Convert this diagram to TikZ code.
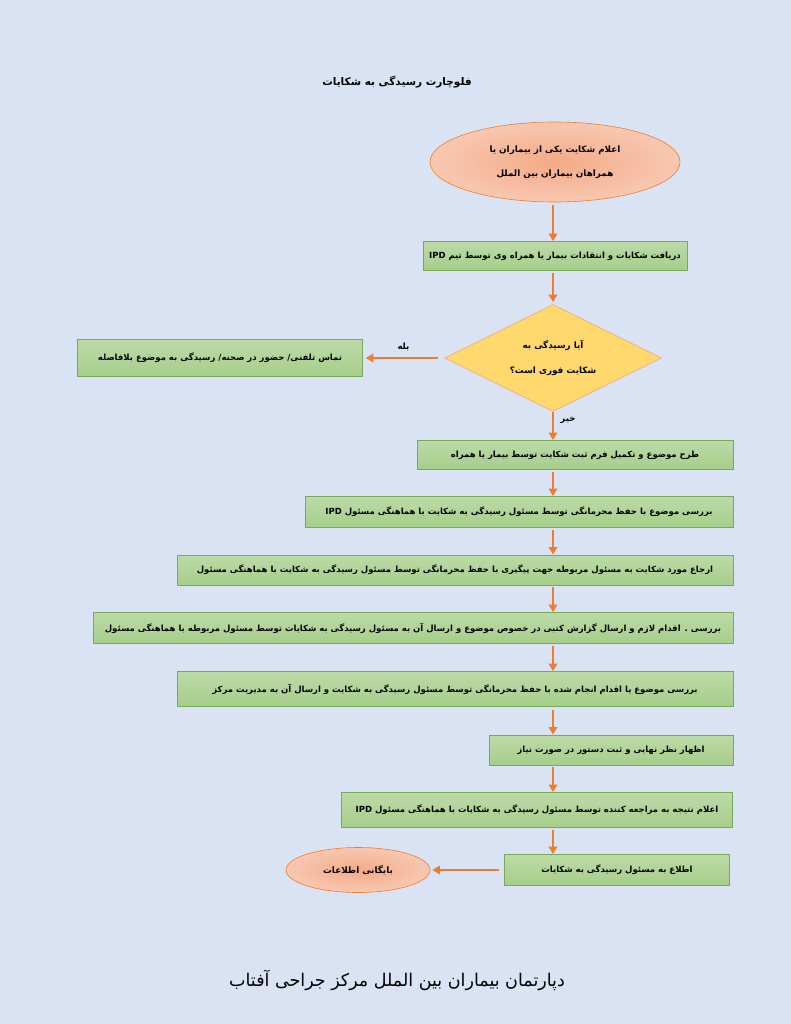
\documentclass[tikz,border=0pt]{standalone}
\usepackage{fontspec}
\usetikzlibrary{shapes.geometric,arrows.meta,calc}
\TeXXeTstate=1
\newfontfamily\arabicfont[Script=Arabic]{DejaVu Sans}
\newcommand{\fatxt}[1]{\beginR #1\endR}
\definecolor{bgc}{RGB}{218,227,243}
\definecolor{boxfill}{RGB}{166,206,138}
\definecolor{boxline}{RGB}{120,170,90}
\definecolor{salmon}{RGB}{244,170,135}
\definecolor{salmonline}{RGB}{237,125,49}
\definecolor{dfill}{RGB}{255,217,110}
\definecolor{dline}{RGB}{244,177,131}
\definecolor{arrc}{RGB}{237,125,49}
\tikzset{
  stepbox/.style={draw=boxline, line width=0.8pt, top color=boxfill!75!white, bottom color=boxfill, inner sep=0pt, font=\arabicfont\bfseries\fontsize{8.5}{10}\selectfont, text=black},
  termin/.style={ellipse, draw=salmonline, line width=0.6pt, inner color=salmon, outer color=salmon!65!white, inner sep=0pt, font=\arabicfont\bfseries\fontsize{8.8}{10}\selectfont, align=center},
  decide/.style={diamond, draw=dline, line width=0.8pt, fill=dfill, inner sep=0pt},
  arr/.style={draw=arrc, line width=2.3pt, -{Triangle[length=7.5pt,width=8.5pt]}},
  lbl/.style={font=\arabicfont\bfseries\fontsize{8.6}{10}\selectfont}
}
\begin{document}
\begin{tikzpicture}[x=1pt,y=-1pt]
\useasboundingbox (0,0) rectangle (791,1024);
\fill[bgc] (0,0) rectangle (791,1024);

\node[font=\arabicfont\bfseries\fontsize{10.5}{12}\selectfont] (title) at (397,82) {\fatxt{فلوچارت رسیدگی به شکایات}};

\node[termin, minimum width=250pt, minimum height=80pt] (e1) at (555,162)
  {\fatxt{اعلام شکایت یکی از بیماران یا}\\[14pt]\fatxt{همراهان بیماران بین الملل}};

\node[stepbox, minimum width=264pt, minimum height=29pt] (b2) at (555,256)
  {\fatxt{دریافت شکایات و انتقادات بیمار یا همراه وی توسط تیم \beginL IPD\endL}};

\node[decide, minimum width=217pt, minimum height=107pt] (d) at (553,358) {};
\node[lbl, font=\arabicfont\bfseries\fontsize{8.8}{10}\selectfont, align=center] (dtext) at (d.center)
  {\fatxt{آیا رسیدگی به}\\[15pt]\fatxt{شکایت فوری است؟}};

\node[stepbox, minimum width=285pt, minimum height=37pt] (bl) at (220,358)
  {\fatxt{تماس تلفنی/ حضور در صحنه/ رسیدگی به موضوع بلافاصله}};

\node[stepbox, minimum width=316pt, minimum height=29pt] (b3) at (575,455)
  {\fatxt{طرح موضوع و تکمیل فرم ثبت شکایت توسط بیمار یا همراه}};

\node[stepbox, minimum width=428pt, minimum height=31pt] (b4) at (519,512)
  {\fatxt{بررسی موضوع با حفظ محرمانگی توسط  مسئول رسیدگی به شکایت با هماهنگی مسئول \beginL IPD\endL}};

\node[stepbox, minimum width=556pt, minimum height=30pt] (b5) at (455,570)
  {\fatxt{ارجاع مورد شکایت به مسئول مربوطه جهت پیگیری با حفظ محرمانگی توسط مسئول رسیدگی به شکایت با هماهنگی مسئول}};

\node[stepbox, minimum width=640pt, minimum height=31pt] (b6) at (413,628)
  {\fatxt{بررسی . اقدام لازم و ارسال گزارش کتبی در خصوص موضوع و ارسال آن به مسئول رسیدگی به شکایات توسط مسئول مربوطه با هماهنگی مسئول}};

\node[stepbox, minimum width=556pt, minimum height=35pt] (b7) at (455,689)
  {\fatxt{بررسی موضوع یا اقدام انجام شده با حفظ محرمانگی توسط  مسئول رسیدگی به شکایت و ارسال آن به مدیریت مرکز}};

\node[stepbox, minimum width=244pt, minimum height=30pt] (b8) at (611,750)
  {\fatxt{اظهار نظر نهایی و ثبت دستور در صورت نیاز}};

\node[stepbox, minimum width=391pt, minimum height=35pt] (b9) at (537,810)
  {\fatxt{اعلام نتیجه به مراجعه کننده توسط مسئول رسیدگی به شکایات با هماهنگی مسئول \beginL IPD\endL}};

\node[stepbox, minimum width=225pt, minimum height=31pt] (b10) at (617,870)
  {\fatxt{اطلاع به مسئول رسیدگی به شکایات}};

\node[termin, minimum width=144pt, minimum height=45pt] (e2) at (358,870)
  {\fatxt{بایگانی اطلاعات}};

\node[font=\arabicfont\fontsize{17.5}{19}\selectfont] (foot) at (397,980) {\fatxt{دپارتمان بیماران بین الملل مرکز جراحی آفتاب}};

\coordinate (ax) at (553,0);

\draw[arr, shorten <=3pt] (e1.south -| ax) -- (b2.north -| ax);
\draw[arr, shorten <=2pt, shorten >=2pt] (b2.south -| ax) -- (d.north);
\draw[arr, shorten <=6pt, shorten >=3pt] (d.west) -- (bl.east) node[lbl, midway, above=3pt] (yes) {\fatxt{بله}};
\draw[arr] (d.south) -- (b3.north -| ax) node[lbl, pos=0.3, right=3pt] (no) {\fatxt{خیر}};
\draw[arr, shorten <=2pt] (b3.south -| ax) -- (b4.north -| ax);
\draw[arr, shorten <=2pt] (b4.south -| ax) -- (b5.north -| ax);
\draw[arr, shorten <=2pt] (b5.south -| ax) -- (b6.north -| ax);
\draw[arr, shorten <=2pt] (b6.south -| ax) -- (b7.north -| ax);
\draw[arr, shorten <=3pt] (b7.south -| ax) -- (b8.north -| ax);
\draw[arr, shorten <=2pt] (b8.south -| ax) -- (b9.north -| ax);
\draw[arr, shorten <=2pt] (b9.south -| ax) -- (b10.north -| ax);
\draw[arr, shorten <=5pt, shorten >=2pt] (b10.west) -- (e2.east);
\end{tikzpicture}
\end{document}
